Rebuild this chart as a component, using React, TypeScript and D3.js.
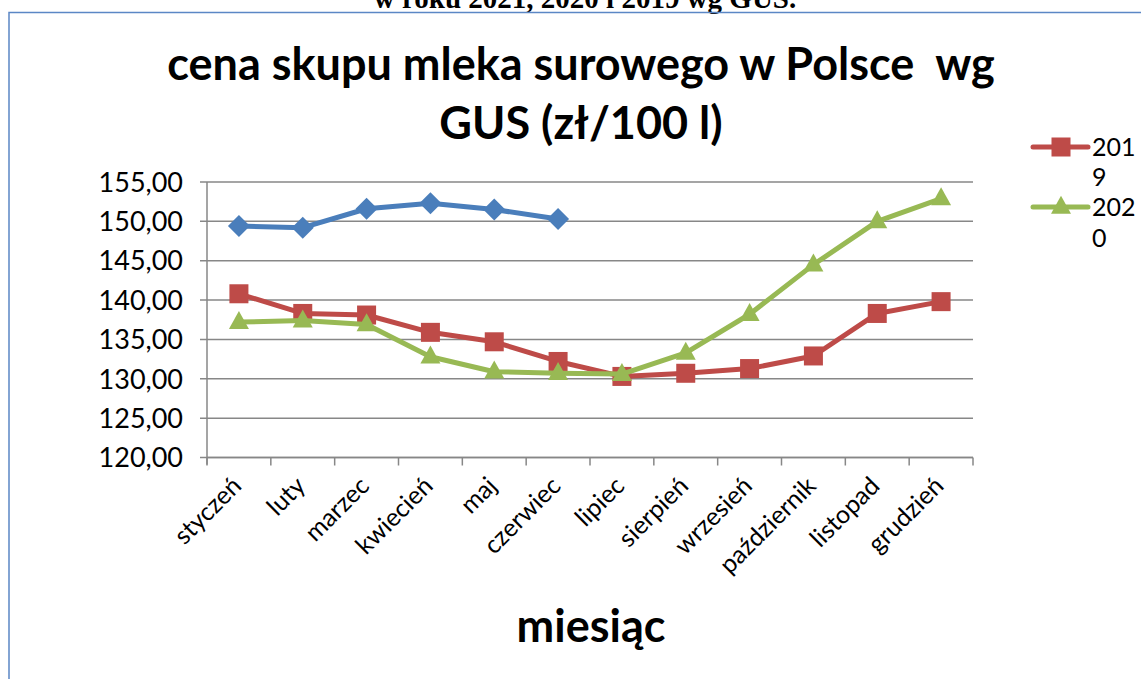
import * as d3 from "d3";

const months = [
  "styczeń", "luty", "marzec", "kwiecień", "maj", "czerwiec",
  "lipiec", "sierpień", "wrzesień", "październik", "listopad", "grudzień",
];
const prices2021 = [149.4, 149.2, 151.6, 152.3, 151.5, 150.3];
const prices2019 = [140.8, 138.3, 138.1, 135.9, 134.7, 132.2, 130.3, 130.7, 131.3, 132.9, 138.3, 139.8];
const prices2020 = [137.2, 137.4, 136.9, 132.8, 130.9, 130.7, 130.6, 133.3, 138.2, 144.5, 150.0, 152.9];
const yTicks = [120, 125, 130, 135, 140, 145, 150, 155];

const BLUE = "#4A7EBB";
const RED = "#BE4B48";
const GREEN = "#98B954";
const GRID = "#878787";
const FONT = "Lato, 'Open Sans', sans-serif";

const W = 1141;
const H = 679;
const plot = { left: 207, right: 973, top: 182, bottom: 457.5 };

const fmt = (v: number) => v.toFixed(2).replace(".", ",");

function Marker({ kind, x, y, color }: { kind: string; x: number; y: number; color: string }) {
  if (kind === "diamond") {
    const r = 11;
    return <path d={`M${x},${y - r}L${x + r},${y}L${x},${y + r}L${x - r},${y}Z`} fill={color} />;
  }
  if (kind === "square") {
    const s = 19;
    return <rect x={x - s / 2} y={y - s / 2} width={s} height={s} fill={color} />;
  }
  const w = 20;
  const h = 18;
  return <path d={`M${x},${y - h * 0.62}L${x + w / 2},${y + h * 0.38}L${x - w / 2},${y + h * 0.38}Z`} fill={color} />;
}

export default function App() {
  const x = d3.scaleBand<string>().domain(months).range([plot.left, plot.right]);
  const y = d3.scaleLinear().domain([120, 155]).range([plot.bottom, plot.top]);
  const cx = (m: string) => (x(m) ?? 0) + x.bandwidth() / 2;

  const line = d3
    .line<number>()
    .x((_, i) => cx(months[i]))
    .y((d) => y(d));

  const series = [
    { values: prices2019, color: RED, kind: "square" },
    { values: prices2020, color: GREEN, kind: "triangle" },
    { values: prices2021, color: BLUE, kind: "diamond" },
  ];

  const edges = months.map((m) => x(m) ?? 0).concat([plot.right]);

  return (
    <svg
      width={W}
      height={H}
      style={{ position: "absolute", left: 0, top: 0, background: "#fff" }}
    >
      {/* cut-off caption above the chart */}
      <text
        x={585}
        y={8}
        textAnchor="middle"
        fontFamily="'Liberation Serif', 'Times New Roman', serif"
        fontWeight="bold"
        fontSize={29}
      >
        w roku 2021, 2020 i 2019 wg GUS.
      </text>

      {/* chart frame */}
      <rect x={9} y={12.5} width={W + 20} height={H + 20} fill="none" stroke="#5B87C5" strokeWidth={1.5} />

      {/* title */}
      <text textAnchor="middle" fontFamily={FONT} fontWeight="bold" fontSize={45} style={{ whiteSpace: "pre" }}>
        <tspan x={581} y={80}>cena skupu mleka surowego w Polsce  wg</tspan>
        <tspan x={581} y={139}>GUS (zł/100 l)</tspan>
      </text>

      {/* gridlines + y ticks */}
      {yTicks.map((t) => (
        <g key={t}>
          <line x1={plot.left - 7} x2={plot.right} y1={y(t)} y2={y(t)} stroke={GRID} strokeWidth={1.5} />
          <text
            x={183}
            y={y(t)}
            dy="0.36em"
            textAnchor="end"
            fontFamily={FONT}
            fontSize={27}
            fill="#000"
          >
            {fmt(t)}
          </text>
        </g>
      ))}

      {/* axes */}
      <line x1={plot.left} x2={plot.left} y1={plot.top} y2={plot.bottom + 7} stroke={GRID} strokeWidth={1.5} />
      <line x1={plot.left} x2={plot.right} y1={plot.bottom} y2={plot.bottom} stroke={GRID} strokeWidth={1.5} />
      {edges.map((e, i) => (
        <line key={i} x1={e} x2={e} y1={plot.bottom} y2={plot.bottom + 8} stroke={GRID} strokeWidth={1.5} />
      ))}

      {/* x labels */}
      {months.map((m) => (
        <text
          key={m}
          transform={`translate(${cx(m) + 4},${plot.bottom + 30}) rotate(-45)`}
          textAnchor="end"
          fontFamily={FONT}
          fontSize={25}
          fill="#000"
        >
          {m}
        </text>
      ))}

      {/* series */}
      {series.map((s) => (
        <g key={s.color}>
          <path d={line(s.values) ?? ""} fill="none" stroke={s.color} strokeWidth={5} strokeLinejoin="round" />
          {s.values.map((v, i) => (
            <Marker key={i} kind={s.kind} x={cx(months[i])} y={y(v)} color={s.color} />
          ))}
        </g>
      ))}

      {/* axis title */}
      <text x={591} y={642} textAnchor="middle" fontFamily={FONT} fontWeight="bold" fontSize={45}>
        miesiąc
      </text>

      {/* legend */}
      <g fontFamily={FONT} fontSize={25}>
        <line x1={1033} x2={1088} y1={147} y2={147} stroke={RED} strokeWidth={5} strokeLinecap="round" />
        <Marker kind="square" x={1061} y={147} color={RED} />
        <text x={1092} y={147} dy="0.36em">201</text>
        <text x={1092} y={177} dy="0.36em">9</text>
        <line x1={1033} x2={1088} y1={207} y2={207} stroke={GREEN} strokeWidth={5} strokeLinecap="round" />
        <Marker kind="triangle" x={1061} y={207} color={GREEN} />
        <text x={1092} y={207} dy="0.36em">202</text>
        <text x={1092} y={238} dy="0.36em">0</text>
      </g>
    </svg>
  );
}
